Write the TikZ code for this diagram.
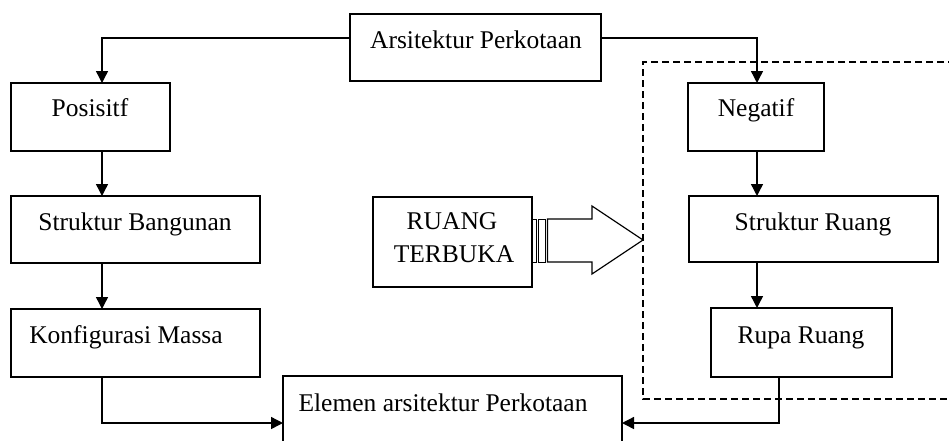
\documentclass[tikz,border=0pt]{standalone}
\usepackage{fontspec}
\setmainfont{Liberation Serif}
\usetikzlibrary{arrows.meta}
\begin{document}
\begin{tikzpicture}[x=1pt,y=-1pt,
  box/.style={draw,line width=1.4pt,inner sep=0pt,outer sep=0pt,anchor=north west},
  lbl/.style={anchor=base,inner sep=0pt,font=\fontsize{25.5}{30}\selectfont},
  arr/.style={line width=1.4pt,-{Triangle[length=12pt,width=12pt]}},
  dbox/.style={dashed,dash pattern=on 7pt off 4pt,line width=1.3pt}]
\useasboundingbox (0,0) rectangle (949,440);
% boxes
\node[box,minimum width=251pt,minimum height=67pt] (arch) at (350,14) {};
\node[box,minimum width=159pt,minimum height=68pt] (pos) at (11,83) {};
\node[box,minimum width=249pt,minimum height=67pt] (sb) at (11,196) {};
\node[box,minimum width=249pt,minimum height=68pt] (km) at (11,309) {};
\node[box,minimum width=339pt,minimum height=94pt] (el) at (283,376) {};
\node[box,minimum width=136pt,minimum height=68pt] (neg) at (688,83) {};
\node[box,minimum width=249pt,minimum height=66pt] (sr) at (689,196) {};
\node[box,minimum width=181pt,minimum height=69pt] (rr) at (711,308) {};
\node[box,minimum width=159pt,minimum height=90pt] (rt) at (373,197) {};
% labels
\node[lbl] (tarch) at (476,48) {Arsitektur Perkotaan};
\node[lbl] (tpos) at (90,116) {Posisitf};
\node[lbl] (tsb) at (135,230) {Struktur Bangunan};
\node[lbl] (tkm) at (126,343) {Konfigurasi Massa};
\node[lbl] (tel) at (443,411) {Elemen arsitektur Perkotaan};
\node[lbl] (tneg) at (756,116) {Negatif};
\node[lbl] (tsr) at (813,230) {Struktur Ruang};
\node[lbl] (trr) at (801,343) {Rupa Ruang};
\node[lbl] (trt1) at (452,229) {RUANG};
\node[lbl] (trt2) at (454,262) {TERBUKA};
% connectors
\draw[arr] ([yshift=9.5pt]arch.west) -| ([xshift=91pt]pos.north west);
\draw[arr] ([yshift=9.5pt]arch.east) -| ([xshift=69pt]neg.north west);
\draw[arr] ([xshift=91pt]pos.south west) -- ([xshift=91pt]sb.north west);
\draw[arr] ([xshift=91pt]sb.south west) -- ([xshift=91pt]km.north west);
\draw[arr] ([xshift=91pt]km.south west) |- (el.west);
\draw[arr] ([xshift=69pt]neg.south west) -- ([xshift=68pt]sr.north west);
\draw[arr] ([xshift=68pt]sr.south west) -- ([xshift=46pt]rr.north west);
\draw[arr] ([xshift=68pt]rr.south west) |- (el.east);
% dashed region
\draw[dbox] (955,62) -- (643,62) -- (643,399) -- (955,399);
% block arrow
\draw[line width=0.9pt] (532,219) rectangle (536,262);
\draw[line width=0.9pt] (538,219) rectangle (545,262);
\draw[line width=1.2pt,line join=miter] (547.5,219) -- (592,219) -- (592,206) -- (643,240) -- (592,274) -- (592,262) -- (547.5,262) -- cycle;
\end{tikzpicture}
\end{document}
